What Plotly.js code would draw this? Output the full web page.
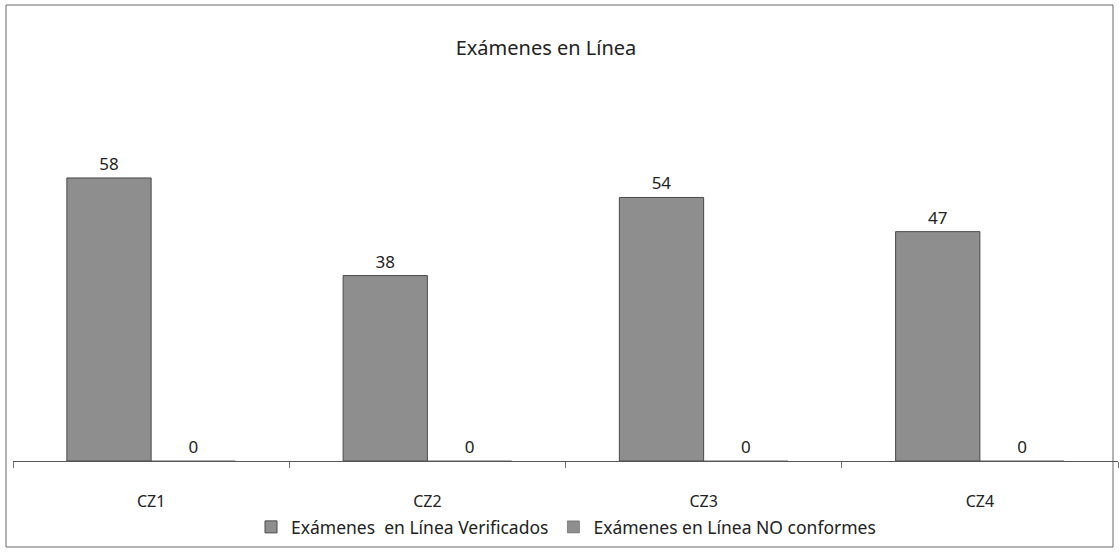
<!DOCTYPE html>
<html>
<head>
<meta charset="utf-8">
<script src="https://cdn.plot.ly/plotly-3.0.1.min.js"></script>
<style>html,body{margin:0;padding:0;background:#fff;}#chart{width:1120px;height:557px;}</style>
</head>
<body>
<div id="chart"></div>
<script>
const categories = ["CZ1", "CZ2", "CZ3", "CZ4"];
const verificados = [58, 38, 54, 47];
const noConformes = [0, 0, 0, 0];
const seriesNames = ["Exámenes  en Línea Verificados", "Exámenes en Línea NO conformes"];
const chartTitle = "Exámenes en Línea";

const FONT = "Noto Sans, Open Sans, sans-serif";
const barColor = "#8e8e8e";
const lineColor = "#4a4a4a";

const ML = 13, MR = 2, MT = 120, MB = 96;
const PW = 1120 - ML - MR, PH = 557 - MT - MB;

const traces = [
  {
    type: "bar", x: categories, y: verificados, name: seriesNames[0],
    marker: {color: barColor, line: {color: lineColor, width: 1}},
    text: verificados.map(String), textposition: "outside", cliponaxis: false,
    textfont: {family: FONT, size: 17, color: "#222"}
  },
  {
    type: "bar", x: categories, y: noConformes, name: seriesNames[1],
    marker: {color: barColor, line: {color: lineColor, width: 0.5}},
    text: noConformes.map(String), textposition: "outside", cliponaxis: false,
    textfont: {family: FONT, size: 17, color: "#222"}
  }
];

const layout = {
  width: 1120, height: 557,
  margin: {l: ML, r: MR, t: MT, b: MB},
  paper_bgcolor: "#fff", plot_bgcolor: "#fff",
  barmode: "group", bargap: 0.39, bargroupgap: 0,
  title: {text: chartTitle, font: {family: FONT, size: 20, color: "#222"},
          x: 546 / 1120, xref: "container", xanchor: "center", y: 1 - 48 / 557, yref: "container", yanchor: "middle"},
  xaxis: {
    showline: true, linecolor: "#555", linewidth: 1,
    ticks: "outside", tickson: "boundaries", ticklen: 6, tickcolor: "#777",
    tickfont: {family: FONT, size: 16, color: "#222"},
    ticklabelstandoff: 26, showgrid: false, zeroline: false
  },
  yaxis: {range: [0, PH / 4.88], visible: false, showgrid: false, zeroline: false},
  showlegend: true,
  legend: {orientation: "h", x: (566 - ML) / PW, xanchor: "center", y: (461 - 527) / PH, yanchor: "middle",
           font: {family: FONT, size: 17.5, color: "#222"}, itemwidth: 30, tracegroupgap: 0},
  shapes: [
    {type: "rect", xref: "paper", yref: "paper",
     x0: (6 - ML) / PW, x1: (1113 - ML) / PW,
     y0: (461 - 547) / PH, y1: (461 - 5) / PH,
     line: {color: "#666", width: 1}, fillcolor: "rgba(0,0,0,0)", layer: "below"}
  ]
};

Plotly.newPlot("chart", traces, layout, {displayModeBar: false, staticPlot: true});
</script>
</body>
</html>
